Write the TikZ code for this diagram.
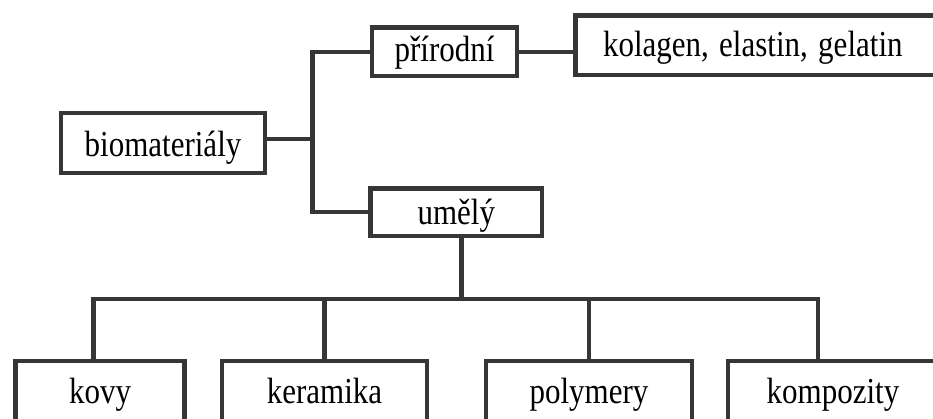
\documentclass[tikz,border=0pt]{standalone}
\usepackage{graphicx}
\usepackage{fontspec}
\setmainfont{Liberation Serif}
\definecolor{inkgray}{HTML}{363636}
% labels are set in a slightly tall, narrow serif
\newcommand{\tallword}[1]{\scalebox{1}[1.18]{#1}}
\begin{document}
\begin{tikzpicture}[x=1pt,y=-1pt,
  box/.style={draw=inkgray, line width=4.8pt, fill=white, inner sep=0pt,
    text depth=0pt, font=\fontsize{31}{36}\selectfont},
  wire/.style={draw=inkgray, line width=4.2pt, line join=miter}]
\useasboundingbox (0,0) rectangle (933,419);
\clip (0,0) rectangle (933,419);

% top level and its two branches
\node[box, minimum width=204pt, minimum height=60pt, text height=28pt]
  (bio) at (163,143) {\tallword{biomateriály}};
\node[box, minimum width=145pt, minimum height=48.5pt, text height=20.5pt]
  (prir) at (444.5,51.75) {\tallword{přírodní}};
\node[box, minimum width=384.5pt, minimum height=59.5pt, text height=23.5pt,
  inner xsep=27.5pt, text width=329.5pt, align=left]
  (kol) at (767.75,45.25) {\tallword{kolagen, elastin, gelatin}};
\node[box, minimum width=171.5pt, minimum height=47.5pt, text height=25.5pt]
  (umely) at (456.25,212.25) {\tallword{umělý}};

% kinds of synthetic materials
\node[box, minimum width=169pt, minimum height=79pt, text height=5pt]
  (kovy) at (100,400.5) {\tallword{kovy}};
\node[box, minimum width=205pt, minimum height=79pt, text height=5pt]
  (kera) at (324.5,400.5) {\tallword{keramika}};
\node[box, minimum width=206pt, minimum height=79pt, text height=5pt]
  (poly) at (589,400.5) {\tallword{polymery}};
\node[box, minimum width=210pt, minimum height=79pt, text height=5pt]
  (komp) at (833,400.5) {\tallword{kompozity}};

% connectors
\coordinate (trunk) at (312.5,0);
\coordinate (busL) at (93.5,299);
\coordinate (busR) at (818,299);
\coordinate (bioout) at ([yshift=4pt]bio.east);

\draw[wire] (bioout) -- (trunk |- bioout);
\draw[wire] (prir.west) -| (trunk |- umely.west) -- (umely.west);
\draw[wire] (prir.east) -- (prir.east -| kol.west);

\coordinate (uo) at ([xshift=5.25pt]umely.south);
\draw[wire] (uo) -- (uo |- busL);
\draw[wire] (busL |- kovy.north) -- (busL) -- (busR) -- (busR |- komp.north);
\draw[wire] (kera.north |- busL) -- (kera.north);
\draw[wire] (poly.north |- busL) -- (poly.north);
\end{tikzpicture}
\end{document}
